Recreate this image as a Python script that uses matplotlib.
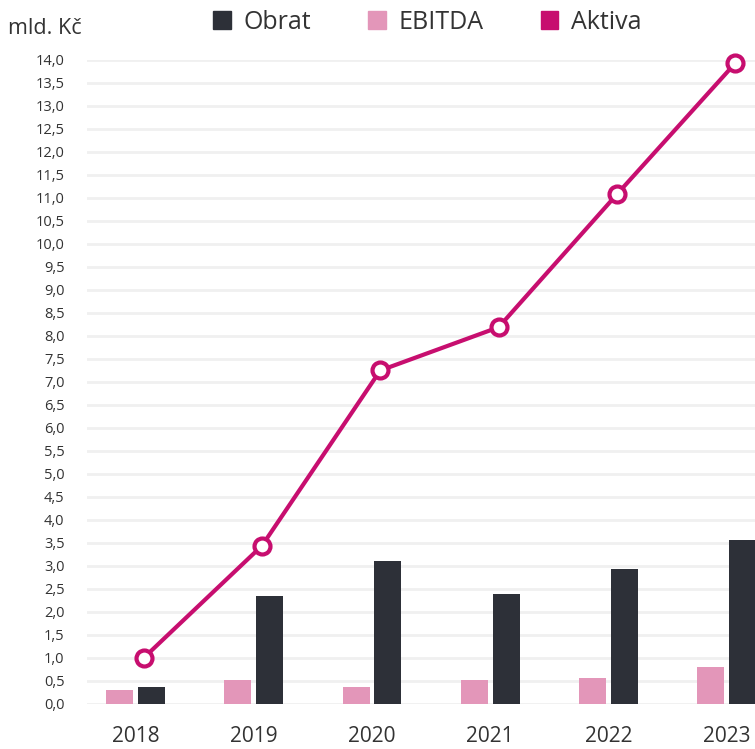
import numpy as np
import matplotlib
matplotlib.use("Agg")
import matplotlib.pyplot as plt
from matplotlib.patches import Patch

years = ["2018", "2019", "2020", "2021", "2022", "2023"]
ebitda = [0.30, 0.52, 0.37, 0.52, 0.57, 0.81]
obrat = [0.37, 2.35, 3.11, 2.39, 2.94, 3.57]
aktiva = [1.00, 3.44, 7.25, 8.19, 11.08, 13.93]

c_obrat = "#2d3038"
c_ebitda = "#e396b9"
c_aktiva = "#c70e6f"
txt = "#333333"

plt.rcParams["font.family"] = ["Open Sans", "DejaVu Sans"]

fig = plt.figure(figsize=(7.55, 7.49), dpi=100)
ax = fig.add_axes([0.115, 0.0601, 0.885, 0.8598])

x = np.arange(len(years))
w = 0.228
off = 0.135
ax.bar(x - off, ebitda, w, color=c_ebitda, zorder=2)
ax.bar(x + off, obrat, w, color=c_obrat, zorder=2)
ax.plot(x + 0.07, aktiva, color=c_aktiva, lw=3, marker="o", ms=11.5,
        mfc="white", mec=c_aktiva, mew=3, zorder=3, clip_on=False)

ax.set_ylim(0, 14)
ax.set_xlim(-0.41, 5.237)
yt = np.arange(0, 14.01, 0.5)
ax.set_yticks(yt)
ax.set_yticklabels([f"{v:.1f}".replace(".", ",") for v in yt], fontsize=10.5, color=txt)
ax.set_xticks(x)
ax.set_xticklabels(years, fontsize=15, color=txt)
ax.tick_params(axis="y", length=0, pad=16)
ax.tick_params(axis="x", length=0, pad=16)
ax.grid(axis="y", color="#f0f0f0", lw=2, zorder=0)
for s in ax.spines.values():
    s.set_visible(False)

fig.text(0.011, 0.962, "mld. Kč", fontsize=15.5, color=txt, va="center", ha="left")

handles = [Patch(color=c_obrat), Patch(color=c_ebitda), Patch(color=c_aktiva)]
fig.legend(handles, ["Obrat", "EBITDA", "Aktiva"], loc="center",
           bbox_to_anchor=(0.566, 0.97), ncol=3, frameon=False, fontsize=18,
           handlelength=0.7, handleheight=0.7, handletextpad=0.5,
           columnspacing=2.3, labelcolor=txt)

fig.savefig("out.png", dpi=100)
